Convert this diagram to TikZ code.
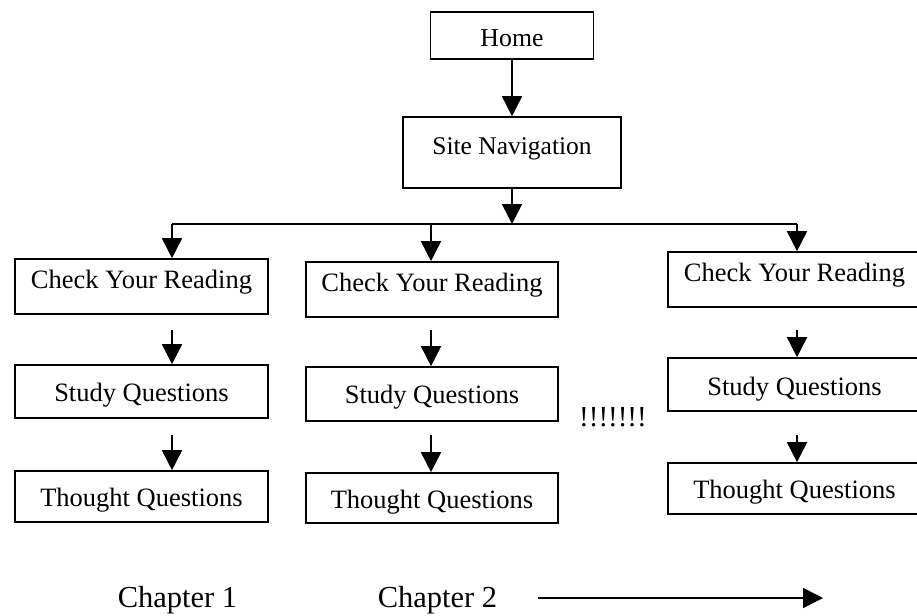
\documentclass[tikz,border=0pt]{standalone}
\usepackage{fontspec}
\setmainfont{Liberation Serif}
\usetikzlibrary{arrows.meta}
\tikzset{
  box/.style={draw, line width=1.6pt, inner sep=0pt, text depth=6pt,
    font=\fontsize{26.5}{30}\selectfont, minimum width=#1},
  hi/.style={text height=10pt},
  mid/.style={text height=26pt},
  arr/.style={line width=1.6pt, -{Triangle[length=20pt,width=20pt]}},
  conn/.style={line width=1.6pt},
  chap/.style={anchor=base, inner sep=0pt, font=\fontsize{30.5}{32}\selectfont},
}
\begin{document}
\begin{tikzpicture}[x=1pt,y=-1pt]
\useasboundingbox (0,0) rectangle (917,615);
% top
\node[box=163pt, mid, text height=28pt, minimum height=47pt, font=\fontsize{25.8}{30}\selectfont] (home) at (512,35.5) {Home};
\node[box=218pt, hi, minimum height=71pt, font=\fontsize{25.5}{30}\selectfont] (nav) at (512,152.5) {Site Navigation};
% column 1
\node[box=253pt, hi, minimum height=55pt] (c1a) at (141.5,286.5) {Check Your Reading};
\node[box=253pt, mid, minimum height=53pt] (c1b) at (141.5,391.5) {Study Questions};
\node[box=253pt, mid, minimum height=51pt] (c1c) at (141.5,496.5) {Thought Questions};
% column 2
\node[box=252pt, hi, minimum height=55pt] (c2a) at (432,289.5) {Check Your Reading};
\node[box=252pt, mid, text height=24pt, minimum height=54pt] (c2b) at (432,394) {Study Questions};
\node[box=252pt, mid, minimum height=50pt] (c2c) at (432,498) {Thought Questions};
% column 3
\node[box=253pt, hi, minimum height=55pt] (c3a) at (794.5,279.5) {Check Your Reading};
\node[box=253pt, mid, text height=27pt, minimum height=53pt] (c3b) at (794.5,384.5) {Study Questions};
\node[box=253pt, mid, text height=25pt, minimum height=51pt] (c3c) at (794.5,488.5) {Thought Questions};
% dots and chapters
\node[anchor=base, inner sep=0pt, font=\fontsize{29}{30}\selectfont] (dots) at (613,426) {!!!!!!!};
\node[chap] (ch1) at (177.5,607) {Chapter 1};
\node[chap] (ch2) at (437.5,607) {Chapter 2};
% coordinates
\coordinate (j) at (512,224);
\coordinate (l1) at (172,224);
\coordinate (l3) at (797,224);
\coordinate (l2) at (431,224);
\coordinate (k1a) at (172,330);
\coordinate (k1b) at (172,435);
\coordinate (k2a) at (431,330);
\coordinate (k2b) at (431,435);
\coordinate (k3a) at (797,330);
\coordinate (k3b) at (797,435);
\coordinate (ta) at (538,598);
\coordinate (tb) at (823,598);
% connectors
\draw[arr] (home.south) -- (nav.north);
\draw[arr] (nav.south) -- (j);
\draw[conn] (l1) -- (l3);
\draw[arr] (l1) -- (l1 |- c1a.north);
\draw[arr] (l2) -- (l2 |- c2a.north);
\draw[arr] (l3) -- (l3 |- c3a.north);
\draw[arr] (k1a) -- (k1a |- c1b.north);
\draw[arr] (k1b) -- (k1b |- c1c.north);
\draw[arr] (k2a) -- (k2a |- c2b.north);
\draw[arr] (k2b) -- (k2b |- c2c.north);
\draw[arr] (k3a) -- (k3a |- c3b.north);
\draw[arr] (k3b) -- (k3b |- c3c.north);
\draw[arr] (ta) -- (tb);
\end{tikzpicture}
\end{document}
